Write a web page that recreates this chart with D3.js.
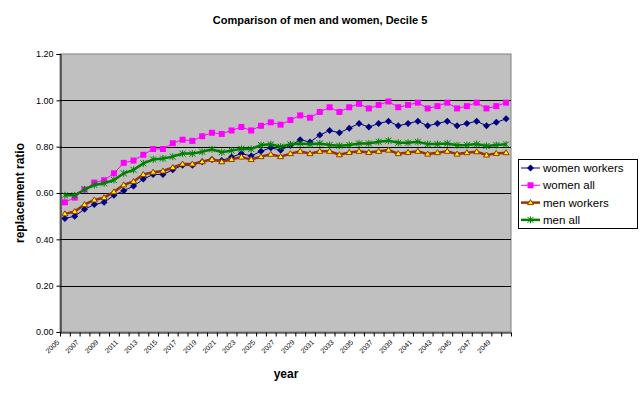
<!DOCTYPE html>
<html>
<head>
<meta charset="utf-8">
<script src="https://cdn.jsdelivr.net/npm/d3@7"></script>
<style>
  body { margin: 0; background: #fff; }
  svg text { font-family: Arial, "Liberation Sans", sans-serif; }
</style>
</head>
<body>
<div id="chart"></div>
<script>
// data, 2005..2050
let years = d3.range(2005, 2051);

let womenWorkers = [0.49, 0.50, 0.53, 0.55, 0.56, 0.59, 0.61, 0.63, 0.66, 0.68,
    0.68, 0.70, 0.72, 0.72, 0.735, 0.745, 0.74, 0.755, 0.77, 0.76,
    0.78, 0.795, 0.785, 0.805, 0.83, 0.82, 0.85, 0.87, 0.86, 0.88,
    0.90, 0.885, 0.90, 0.91, 0.89, 0.90, 0.91, 0.89, 0.90, 0.91,
    0.89, 0.90, 0.91, 0.89, 0.905, 0.92];

let womenAll = [0.56, 0.58, 0.615, 0.645, 0.655, 0.685, 0.73, 0.74, 0.765, 0.79,
    0.79, 0.815, 0.83, 0.825, 0.845, 0.86, 0.855, 0.87, 0.885, 0.87,
    0.89, 0.905, 0.895, 0.915, 0.935, 0.925, 0.95, 0.97, 0.95, 0.97,
    0.985, 0.965, 0.98, 0.995, 0.97, 0.98, 0.99, 0.965, 0.975, 0.99,
    0.965, 0.975, 0.99, 0.965, 0.975, 0.99];

let menWorkers = [0.51, 0.52, 0.55, 0.57, 0.58, 0.605, 0.635, 0.65, 0.68, 0.69,
    0.695, 0.71, 0.725, 0.725, 0.735, 0.745, 0.735, 0.745, 0.755, 0.745,
    0.757, 0.767, 0.757, 0.77, 0.78, 0.77, 0.78, 0.78, 0.765, 0.775,
    0.78, 0.775, 0.78, 0.785, 0.77, 0.775, 0.78, 0.768, 0.774, 0.78,
    0.768, 0.774, 0.778, 0.764, 0.771, 0.774];

let menAll = [0.59, 0.59, 0.615, 0.635, 0.642, 0.656, 0.685, 0.70, 0.728, 0.745,
    0.749, 0.757, 0.77, 0.77, 0.778, 0.789, 0.776, 0.783, 0.791, 0.79,
    0.807, 0.81, 0.80, 0.81, 0.814, 0.81, 0.814, 0.807, 0.804, 0.807,
    0.814, 0.814, 0.821, 0.826, 0.817, 0.817, 0.821, 0.811, 0.811, 0.814,
    0.806, 0.807, 0.811, 0.803, 0.807, 0.81];

let seriesNames = ['women workers', 'women all', 'men workers', 'men all'];
let yTicks = [0, 0.2, 0.4, 0.6, 0.8, 1.0, 1.2];
let xLabelYears = years.filter((d, i) => i % 2 === 0 && d < 2050);

let width = 642,
    height = 394,
    plot = {left: 60, right: 511, top: 54, bottom: 332};

let series = [
    {name: seriesNames[0], values: womenWorkers, color: '#000080', width: 1, marker: 'diamond'},
    {name: seriesNames[1], values: womenAll, color: '#FF00FF', width: 1, marker: 'square'},
    {name: seriesNames[2], values: menWorkers, color: '#993300', width: 2.5, marker: 'triangle'},
    {name: seriesNames[3], values: menAll, color: '#008000', width: 2.5, marker: 'star'}
];

let svg = d3.select('#chart')
    .append('svg')
    .attr('width', width)
    .attr('height', height);

let x = d3.scaleBand().domain(years).range([plot.left, plot.right]);
let xi = d3.scaleLinear().domain([0, years.length]).range([plot.left, plot.right]);
let y = d3.scaleLinear().domain([0, 1.2]).range([plot.bottom, plot.top]);

function cx(d) { return x(d) + x.bandwidth() / 2; }

// plot area
svg.append('rect')
    .attr('x', plot.left)
    .attr('y', plot.top)
    .attr('width', plot.right - plot.left)
    .attr('height', plot.bottom - plot.top)
    .attr('fill', '#C0C0C0')
    .attr('stroke', '#808080')
    .attr('stroke-width', 1);

// gridlines
svg.append('g')
    .selectAll('line')
    .data(yTicks.filter(d => d > 0 && d < 1.2))
    .enter()
    .append('line')
    .attr('x1', plot.left)
    .attr('x2', plot.right)
    .attr('y1', d => Math.round(y(d)) + 0.5)
    .attr('y2', d => Math.round(y(d)) + 0.5)
    .attr('stroke', '#000')
    .attr('stroke-width', 1);

// y axis
let yAxis = svg.append('g')
    .attr('transform', 'translate(' + (plot.left + 0.5) + ',0)')
    .call(d3.axisLeft(y).tickValues(yTicks).tickFormat(d3.format('.2f')).tickSize(4).tickPadding(3));
yAxis.selectAll('text').attr('font-size', 9).attr('fill', '#000').style('font-family', 'Arial, "Liberation Sans", sans-serif');
yAxis.selectAll('line, path').attr('stroke', '#000');

// x axis: ticks between categories
let xAxis = svg.append('g')
    .attr('transform', 'translate(0,' + (plot.bottom + 0.5) + ')')
    .call(d3.axisBottom(xi).tickValues(d3.range(years.length + 1)).tickFormat('').tickSize(4).tickSizeOuter(0));
xAxis.selectAll('line, path').attr('stroke', '#000');

svg.append('g')
    .selectAll('text')
    .data(xLabelYears)
    .enter()
    .append('text')
    .attr('transform', d => 'translate(' + (cx(d) - 7) + ',' + 341 + ') rotate(-45)')
    .attr('text-anchor', 'end')
    .attr('dy', '0.35em')
    .attr('font-size', 7)
    .text(d => d);

// lines and markers
let line = d3.line()
    .x((d, i) => cx(years[i]))
    .y(d => y(d));

function drawMarker(g, type, color) {
    if (type === 'diamond') {
        g.append('path').attr('d', 'M0,-3.5L3.5,0L0,3.5L-3.5,0Z').attr('fill', color);
    } else if (type === 'square') {
        g.append('rect').attr('x', -3).attr('y', -3).attr('width', 6).attr('height', 6).attr('fill', color);
    } else if (type === 'triangle') {
        g.append('path').attr('d', 'M0,-3L3,2L-3,2Z')
            .attr('fill', '#FFFF00').attr('stroke', color).attr('stroke-width', 1);
    } else {
        g.append('path').attr('d', 'M-3,-3L3,3M-3,3L3,-3M0,-3.5L0,3.5')
            .attr('fill', 'none').attr('stroke', color).attr('stroke-width', 1);
    }
}

series.forEach(function(s) {
    let g = svg.append('g');
    g.append('path')
        .datum(s.values)
        .attr('d', line)
        .attr('fill', 'none')
        .attr('stroke', s.color)
        .attr('stroke-width', s.width);
    g.selectAll('g.m')
        .data(s.values)
        .enter()
        .append('g')
        .attr('class', 'm')
        .attr('transform', (d, i) => 'translate(' + cx(years[i]) + ',' + y(d) + ')')
        .each(function() { drawMarker(d3.select(this), s.marker, s.color); });
});

// titles
svg.append('text')
    .attr('x', 320)
    .attr('y', 24)
    .attr('text-anchor', 'middle')
    .attr('font-size', 11)
    .attr('font-weight', 'bold')
    .text('Comparison of men and women, Decile 5');

svg.append('text')
    .attr('transform', 'translate(24,' + ((plot.top + plot.bottom) / 2) + ') rotate(-90)')
    .attr('text-anchor', 'middle')
    .attr('font-size', 12)
    .attr('font-weight', 'bold')
    .text('replacement ratio');

svg.append('text')
    .attr('x', 286)
    .attr('y', 378)
    .attr('text-anchor', 'middle')
    .attr('font-size', 12)
    .attr('font-weight', 'bold')
    .text('year');

// legend
let legend = svg.append('g').attr('transform', 'translate(518,159)');
legend.append('rect')
    .attr('x', 0.5)
    .attr('y', 0.5)
    .attr('width', 119)
    .attr('height', 69)
    .attr('fill', '#fff')
    .attr('stroke', '#000');

series.forEach(function(s, i) {
    let ly = 9 + i * 17.3;
    let item = legend.append('g').attr('transform', 'translate(0,' + ly + ')');
    item.append('line')
        .attr('x1', 3).attr('x2', 22)
        .attr('y1', 0).attr('y2', 0)
        .attr('stroke', s.color)
        .attr('stroke-width', s.width);
    drawMarker(item.append('g').attr('transform', 'translate(12.5,0)'), s.marker, s.color);
    item.append('text')
        .attr('x', 25)
        .attr('y', 0)
        .attr('dy', '0.35em')
        .attr('font-size', 11.5)
        .text(s.name);
});
</script>
</body>
</html>
